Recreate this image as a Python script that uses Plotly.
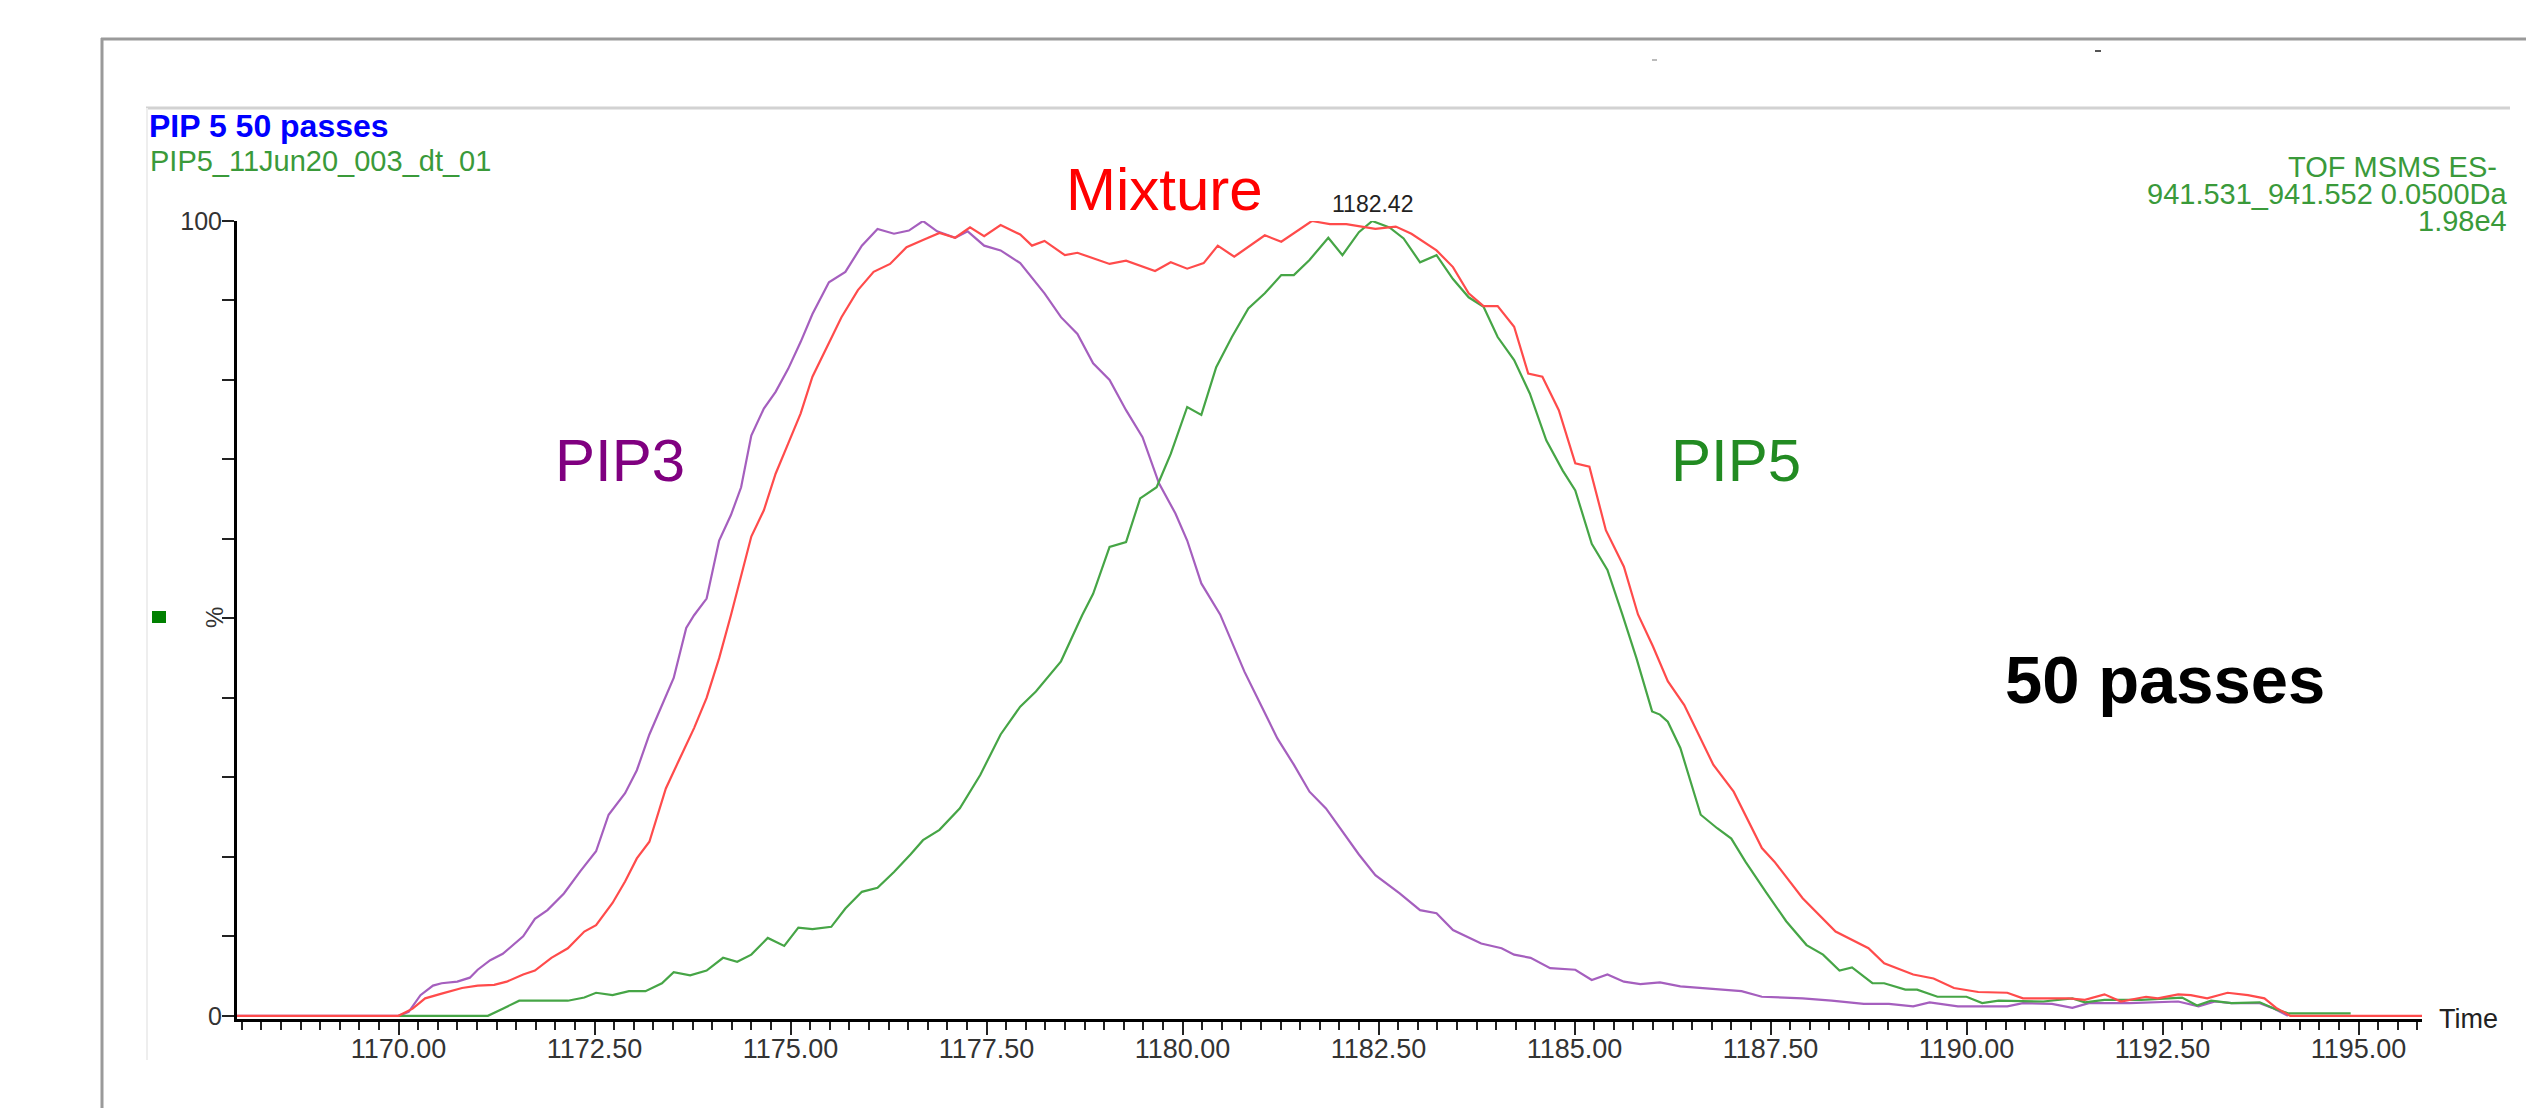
import numpy as np
import plotly.graph_objects as go

# ---------------- data ----------------
pip3_t = [1167.94, 1170.0, 1170.13, 1170.28, 1170.44, 1170.55, 1170.75, 1170.91, 1171.01, 1171.17, 1171.33,
          1171.48, 1171.59, 1171.74, 1171.9, 1172.11, 1172.32, 1172.52, 1172.68, 1172.89, 1173.04,
          1173.2, 1173.36, 1173.51, 1173.67, 1173.77, 1173.93, 1174.09, 1174.24, 1174.37, 1174.5,
          1174.66, 1174.81, 1174.97, 1175.13, 1175.28, 1175.49, 1175.7, 1175.91, 1176.11, 1176.32,
          1176.51, 1176.69, 1176.87, 1177.1, 1177.26, 1177.47, 1177.68, 1177.93, 1178.24, 1178.45,
          1178.66, 1178.86, 1179.07, 1179.28, 1179.49, 1179.7, 1179.91, 1180.06, 1180.24, 1180.48,
          1180.63, 1180.79, 1181.0, 1181.21, 1181.42, 1181.62, 1181.83, 1182.04, 1182.25, 1182.46,
          1182.77, 1183.03, 1183.24, 1183.45, 1183.81, 1184.07, 1184.23, 1184.44, 1184.69, 1185.01,
          1185.22, 1185.42, 1185.63, 1185.84, 1186.09, 1186.35, 1186.87, 1187.13, 1187.39, 1187.91,
          1188.28, 1188.69, 1189.01, 1189.32, 1189.53, 1189.89, 1190.2, 1190.52, 1190.72, 1191.09,
          1191.35, 1191.56, 1192.08, 1192.7, 1192.96, 1193.17, 1193.38, 1193.74, 1193.9, 1194.1]
pip3_pct = [0, 0, 0.5, 2.6, 3.8, 4.1, 4.3, 4.8, 5.8, 7.0, 7.8,
            9.0, 10.0, 12.2, 13.3, 15.4, 18.2, 20.7, 25.3, 28.0, 30.9,
            35.4, 39.1, 42.5, 48.8, 50.4, 52.5, 59.8, 63.0, 66.5, 73.0,
            76.4, 78.5, 81.4, 84.8, 88.3, 92.3, 93.6, 96.9, 99.0, 98.4,
            98.8, 100.0, 98.7, 97.9, 98.7, 96.9, 96.3, 94.7, 90.9, 87.9,
            85.8, 82.1, 80.0, 76.2, 72.8, 67.0, 63.2, 59.8, 54.4, 50.5,
            47.1, 43.3, 39.1, 34.9, 31.6, 28.2, 26.1, 23.2, 20.3, 17.7,
            15.4, 13.3, 12.9, 10.8, 9.1, 8.5, 7.7, 7.3, 6.0, 5.8,
            4.5, 5.2, 4.3, 4.0, 4.2, 3.7, 3.3, 3.1, 2.4, 2.2,
            1.9, 1.5, 1.5, 1.2, 1.7, 1.2, 1.2, 1.2, 1.6, 1.5,
            1.0, 1.6, 1.6, 1.8, 1.2, 1.8, 1.6, 1.6, 1.0, 0.0]

pip5_t = [1170.0, 1171.14, 1171.33, 1171.54, 1172.16, 1172.37, 1172.52, 1172.73, 1172.94, 1173.15,
          1173.36, 1173.51, 1173.72, 1173.93, 1174.14, 1174.32, 1174.5, 1174.71, 1174.92, 1175.1,
          1175.28, 1175.52, 1175.7, 1175.91, 1176.11, 1176.32, 1176.53, 1176.69, 1176.9, 1177.16,
          1177.42, 1177.68, 1177.93, 1178.13, 1178.45, 1178.6, 1178.72, 1178.86, 1179.07, 1179.28,
          1179.46, 1179.67, 1179.85, 1180.06, 1180.24, 1180.43, 1180.63, 1180.84, 1181.05, 1181.26,
          1181.42, 1181.62, 1181.86, 1182.04, 1182.25, 1182.42, 1182.64, 1182.82, 1183.03, 1183.24,
          1183.45, 1183.65, 1183.84, 1184.02, 1184.23, 1184.43, 1184.64, 1184.85, 1185.01, 1185.22,
          1185.42, 1185.61, 1185.79, 1185.99, 1186.09, 1186.19, 1186.35, 1186.61, 1186.82, 1187.0,
          1187.18, 1187.44, 1187.7, 1187.96, 1188.17, 1188.38, 1188.54, 1188.8, 1188.95, 1189.22,
          1189.37, 1189.63, 1190.0, 1190.2, 1190.41, 1190.98, 1191.35, 1191.51, 1191.76, 1192.23,
          1192.65, 1192.75, 1192.94, 1193.12, 1193.38, 1193.74, 1193.95, 1194.11, 1194.9]
pip5_pct = [0, 0, 0.9, 1.9, 1.9, 2.3, 2.9, 2.6, 3.1, 3.1,
            4.1, 5.5, 5.1, 5.7, 7.3, 6.8, 7.7, 9.8, 8.8, 11.1,
            10.9, 11.2, 13.5, 15.6, 16.1, 18.1, 20.3, 22.1, 23.4, 26.1,
            30.3, 35.4, 38.9, 40.8, 44.6, 47.9, 50.4, 53.1, 59.0, 59.6,
            65.1, 66.5, 70.7, 76.6, 75.6, 81.6, 85.4, 89.0, 90.9, 93.2,
            93.2, 95.1, 97.9, 95.7, 98.6, 100.0, 99.2, 97.8, 94.8, 95.7,
            92.7, 90.4, 89.2, 85.4, 82.5, 78.3, 72.4, 68.6, 66.1, 59.4,
            56.1, 50.5, 45.0, 38.3, 37.9, 37.0, 33.7, 25.3, 23.6, 22.3,
            19.4, 15.6, 11.9, 8.9, 7.7, 5.7, 6.1, 4.1, 4.1, 3.3,
            3.3, 2.4, 2.4, 1.6, 1.9, 1.8, 2.2, 1.7, 2.0, 2.0,
            2.2, 2.3, 1.3, 1.9, 1.6, 1.7, 0.8, 0.3, 0.3]

mix_t = [1167.94, 1170.0, 1170.18, 1170.34, 1170.55, 1170.81, 1171.01, 1171.22, 1171.38, 1171.59,
         1171.74, 1171.95, 1172.16, 1172.37, 1172.52, 1172.73, 1172.89, 1173.04, 1173.2, 1173.41,
         1173.57, 1173.77, 1173.93, 1174.09, 1174.24, 1174.4, 1174.5, 1174.66, 1174.81, 1174.97,
         1175.13, 1175.28, 1175.44, 1175.65, 1175.86, 1176.06, 1176.27, 1176.48, 1176.69, 1176.9,
         1177.1, 1177.29, 1177.47, 1177.68, 1177.93, 1178.08, 1178.24, 1178.5, 1178.66, 1179.07,
         1179.28, 1179.65, 1179.85, 1180.06, 1180.27, 1180.45, 1180.66, 1181.05, 1181.26, 1181.65,
         1181.88, 1182.09, 1182.46, 1182.72, 1182.92, 1183.24, 1183.45, 1183.65, 1183.84, 1184.02,
         1184.23, 1184.41, 1184.59, 1184.8, 1185.01, 1185.19, 1185.4, 1185.63, 1185.81, 1186.0,
         1186.19, 1186.4, 1186.77, 1187.03, 1187.39, 1187.55, 1187.91, 1188.33, 1188.75, 1188.95,
         1189.32, 1189.58, 1189.84, 1190.15, 1190.52, 1190.72, 1191.3, 1191.51, 1191.76, 1191.97,
         1192.29, 1192.44, 1192.7, 1192.86, 1193.07, 1193.33, 1193.59, 1193.8, 1193.95, 1194.13, 1195.81]
mix_pct = [0, 0, 0.9, 2.2, 2.8, 3.5, 3.8, 3.9, 4.3, 5.2,
           5.7, 7.3, 8.5, 10.6, 11.4, 14.2, 16.9, 19.8, 21.9, 28.6,
           32.0, 36.2, 40.0, 45.0, 50.4, 56.5, 60.3, 63.6, 68.2, 72.0,
           75.8, 80.4, 83.7, 87.9, 91.3, 93.6, 94.6, 96.7, 97.6, 98.5,
           97.9, 99.2, 98.1, 99.5, 98.3, 96.9, 97.5, 95.7, 96.0, 94.6,
           95.0, 93.7, 94.8, 94.0, 94.7, 96.9, 95.5, 98.2, 97.4, 100.0,
           99.6, 99.6, 99.0, 99.3, 98.4, 96.3, 94.2, 90.9, 89.3, 89.3,
           86.7, 80.8, 80.4, 76.2, 69.5, 69.1, 61.1, 56.5, 50.5, 46.5,
           42.1, 39.1, 31.6, 28.2, 21.1, 19.4, 14.8, 10.6, 8.5, 6.6,
           5.2, 4.7, 3.5, 3.0, 2.9, 2.2, 2.2, 2.0, 2.7, 1.8,
           2.4, 2.2, 2.7, 2.6, 2.2, 2.9, 2.6, 2.2, 1.0, 0.0, 0.0]

peak_time = 1182.42
x_range = [1167.94, 1195.81]
x_label_step = 2.5
x_mid_step = 1.25
x_minor_step = 0.25

# ---------------- layout geometry (pixels) ----------------
W, H = 2526, 1108
PL, PR, PT, PB = 237, 2422, 221, 1019
FONT = "Liberation Sans, Arial, sans-serif"


def px(x):
    return (x - PL) / (PR - PL)


def py(y):
    return (PB - y) / (PB - PT)


fig = go.Figure()
fig.add_trace(go.Scatter(x=pip3_t, y=pip3_pct, mode="lines", name="PIP3",
                         line=dict(color="rgb(165,95,190)", width=2.2), hoverinfo="x+y"))
fig.add_trace(go.Scatter(x=pip5_t, y=pip5_pct, mode="lines", name="PIP5",
                         line=dict(color="rgb(70,165,70)", width=2.2), hoverinfo="x+y"))
fig.add_trace(go.Scatter(x=mix_t, y=mix_pct, mode="lines", name="Mixture",
                         line=dict(color="rgb(255,75,75)", width=2.2), hoverinfo="x+y"))

# x ticks
mid_vals = np.round(np.arange(1168.75, x_range[1] + 1e-6, x_mid_step), 2)
mid_text = [f"{v:.2f}" if abs(((v - 1170) / x_label_step) - round((v - 1170) / x_label_step)) < 1e-6 else ""
            for v in mid_vals]
minor_vals = np.round(np.arange(1168.0, x_range[1] + 1e-6, x_minor_step), 2)

fig.update_xaxes(
    range=x_range, showgrid=False, zeroline=False,
    showline=True, linecolor="black", linewidth=3, layer="below traces",
    tickmode="array", tickvals=list(mid_vals), ticktext=mid_text,
    ticks="outside", ticklen=13, tickwidth=2, tickcolor="#222",
    ticklabelstandoff=-9,
    tickfont=dict(family=FONT, size=27, color="#333"),
    minor=dict(tickmode="array", tickvals=list(minor_vals), ticks="outside",
               ticklen=8, tickwidth=2, tickcolor="#222", showgrid=False),
)
fig.update_yaxes(
    range=[-0.4, 100], showgrid=False, zeroline=False,
    showline=True, linecolor="black", linewidth=3, layer="below traces",
    tickmode="array", tickvals=[0, 100], ticktext=["0", "100"],
    ticks="outside", ticklen=12, tickwidth=2, tickcolor="#222",
    ticklabelstandoff=-5,
    tickfont=dict(family=FONT, size=25, color="#333"),
    minor=dict(tickmode="array", tickvals=list(range(10, 100, 10)), ticks="outside",
               ticklen=12, tickwidth=2, tickcolor="#222", showgrid=False),
)

frame = dict(color="#9a9a9a", width=3)
shapes = [
    # outer frame: top and left edges only (the right and bottom run off the picture)
    dict(type="line", xref="paper", yref="paper", x0=px(101), x1=px(2526), y0=py(39), y1=py(39), line=frame),
    dict(type="line", xref="paper", yref="paper", x0=px(102), x1=px(102), y0=py(38), y1=py(1108), line=frame),
    dict(type="line", xref="paper", yref="paper", x0=px(146), x1=px(2510), y0=py(108), y1=py(108),
         line=dict(color="#d2d2d2", width=3)),
    dict(type="line", xref="paper", yref="paper", x0=px(147), x1=px(147), y0=py(108), y1=py(1060),
         line=dict(color="#eeeeee", width=2)),
    dict(type="rect", xref="paper", yref="paper", x0=px(152), x1=px(166), y0=py(611), y1=py(623),
         line=dict(width=0), fillcolor="#008000"),
    dict(type="line", xref="paper", yref="paper", x0=px(1652), x1=px(1657), y0=py(60), y1=py(60),
         line=dict(color="#bbbbbb", width=2)),
    dict(type="line", xref="paper", yref="paper", x0=px(2095), x1=px(2101), y0=py(51), y1=py(51),
         line=dict(color="#555555", width=2)),
]


def ann(text, x, y, size, color, xanchor="center", bold=False, angle=0):
    t = f"<b>{text}</b>" if bold else text
    return dict(text=t, showarrow=False, font=dict(family=FONT, size=size, color=color),
                xanchor=xanchor, yanchor="middle", textangle=angle,
                xref="paper", yref="paper", x=px(x), y=py(y))


annotations = [
    ann("PIP 5 50 passes", 147, 126, 32, "#0000ff", xanchor="left", bold=True),
    ann("PIP5_11Jun20_003_dt_01", 148, 161, 29, "#3a9a3a", xanchor="left"),
    ann("TOF MSMS ES-", 2499, 167, 29, "#3a9a3a", xanchor="right"),
    ann("941.531_941.552 0.0500Da", 2509, 194, 29, "#3a9a3a", xanchor="right"),
    ann("1.98e4", 2509, 221, 29, "#3a9a3a", xanchor="right"),
    ann("Mixture", 1164, 189, 60, "#ff0000"),
    ann("PIP3", 620, 460, 60, "#800080"),
    ann("PIP5", 1736, 460, 60, "#228b22"),
    ann("50 passes", 2165, 679, 67, "#000000", bold=True),
    ann("%", 214, 618, 24, "#333", angle=-90),
    ann("Time", 2437, 1019, 27, "#222", xanchor="left"),
    dict(text=f"{peak_time:.2f}", x=peak_time, y=100, xref="x", yref="y", showarrow=False,
         yanchor="middle", xanchor="center", yshift=17,
         font=dict(family=FONT, size=23, color="#222")),
]

fig.update_layout(
    width=W, height=H,
    margin=dict(l=PL, r=W - PR, t=PT, b=H - PB, pad=0),
    paper_bgcolor="white", plot_bgcolor="white",
    showlegend=False,
    shapes=shapes, annotations=annotations,
)

page_fix = (
    "var s=document.createElement('style');"
    "s.textContent='html,body{margin:0;padding:0;overflow:hidden;scrollbar-width:none;}"
    "::-webkit-scrollbar{display:none;width:0;height:0;}';"
    "document.head.appendChild(s);"
)

fig.write_html(
    "out.html",
    config={"displayModeBar": False},
    post_script=page_fix,
)
